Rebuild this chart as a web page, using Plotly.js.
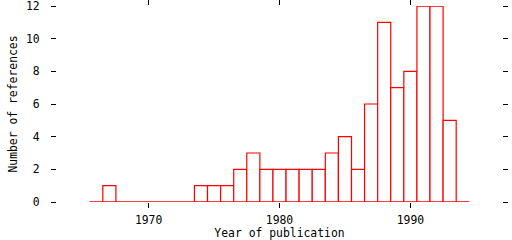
<!DOCTYPE html>
<html>
<head>
<meta charset="utf-8">
<script src="https://cdn.plot.ly/plotly-3.0.1.min.js"></script>
<style>html,body{margin:0;padding:0;background:#fff;}#chart{width:512px;height:240px;}</style>
</head>
<body>
<div id="chart"></div>
<script>
var years = [1966,1967,1968,1969,1970,1971,1972,1973,1974,1975,1976,1977,1978,1979,1980,1981,1982,1983,1984,1985,1986,1987,1988,1989,1990,1991,1992,1993,1994];
var counts = [0,1,0,0,0,0,0,0,1,1,1,2,3,2,2,2,2,2,3,4,2,6,11,7,8,12,12,5,0];
var xTickVals = [1970,1980,1990];
var yTickVals = [0,2,4,6,8,10,12];

var fontSpec = {family: 'DejaVu Sans Mono, Liberation Mono, monospace', size: 11.4, color: '#000'};

var trace = {
  type: 'bar',
  x: years,
  y: counts,
  width: 1,
  marker: {color: '#fff', line: {color: '#ff0000', width: 1.2}},
  hoverinfo: 'none',
  cliponaxis: false
};

var layout = {
  width: 512, height: 240,
  margin: {l: 57, r: 10, t: 6, b: 38, pad: 0},
  paper_bgcolor: '#fff', plot_bgcolor: '#fff',
  showlegend: false,
  font: fontSpec,
  bargap: 0,
  xaxis: {
    range: [1963, 1997],
    tickvals: xTickVals,
    ticktext: xTickVals.map(String),
    ticks: 'outside', ticklen: 5, tickwidth: 1, tickcolor: '#000',
    mirror: 'ticks',
    showline: false, showgrid: false, zeroline: false,
    tickfont: fontSpec,
    ticklabelstandoff: 2,
    ticklabeloverflow: 'allow',
    title: {text: 'Year of publication', font: fontSpec, standoff: 4}
  },
  yaxis: {
    range: [0, 12.002],
    tickvals: yTickVals,
    ticktext: yTickVals.map(String),
    ticks: 'outside', ticklen: 5, tickwidth: 1, tickcolor: '#000',
    mirror: 'ticks',
    showline: false, showgrid: false, zeroline: false,
    tickfont: fontSpec,
    ticklabelstandoff: 9,
    ticklabeloverflow: 'allow',
    title: {text: 'Number of references', font: fontSpec, standoff: 6}
  },
  shapes: [{
    type: 'line', xref: 'x', yref: 'y',
    x0: years[0] - 0.5, x1: years[years.length - 1] + 0.5, y0: 0, y1: 0,
    line: {color: '#ff0000', width: 1.2}
  }]
};

Plotly.newPlot('chart', [trace], layout, {staticPlot: true, displayModeBar: false});
</script>
</body>
</html>
